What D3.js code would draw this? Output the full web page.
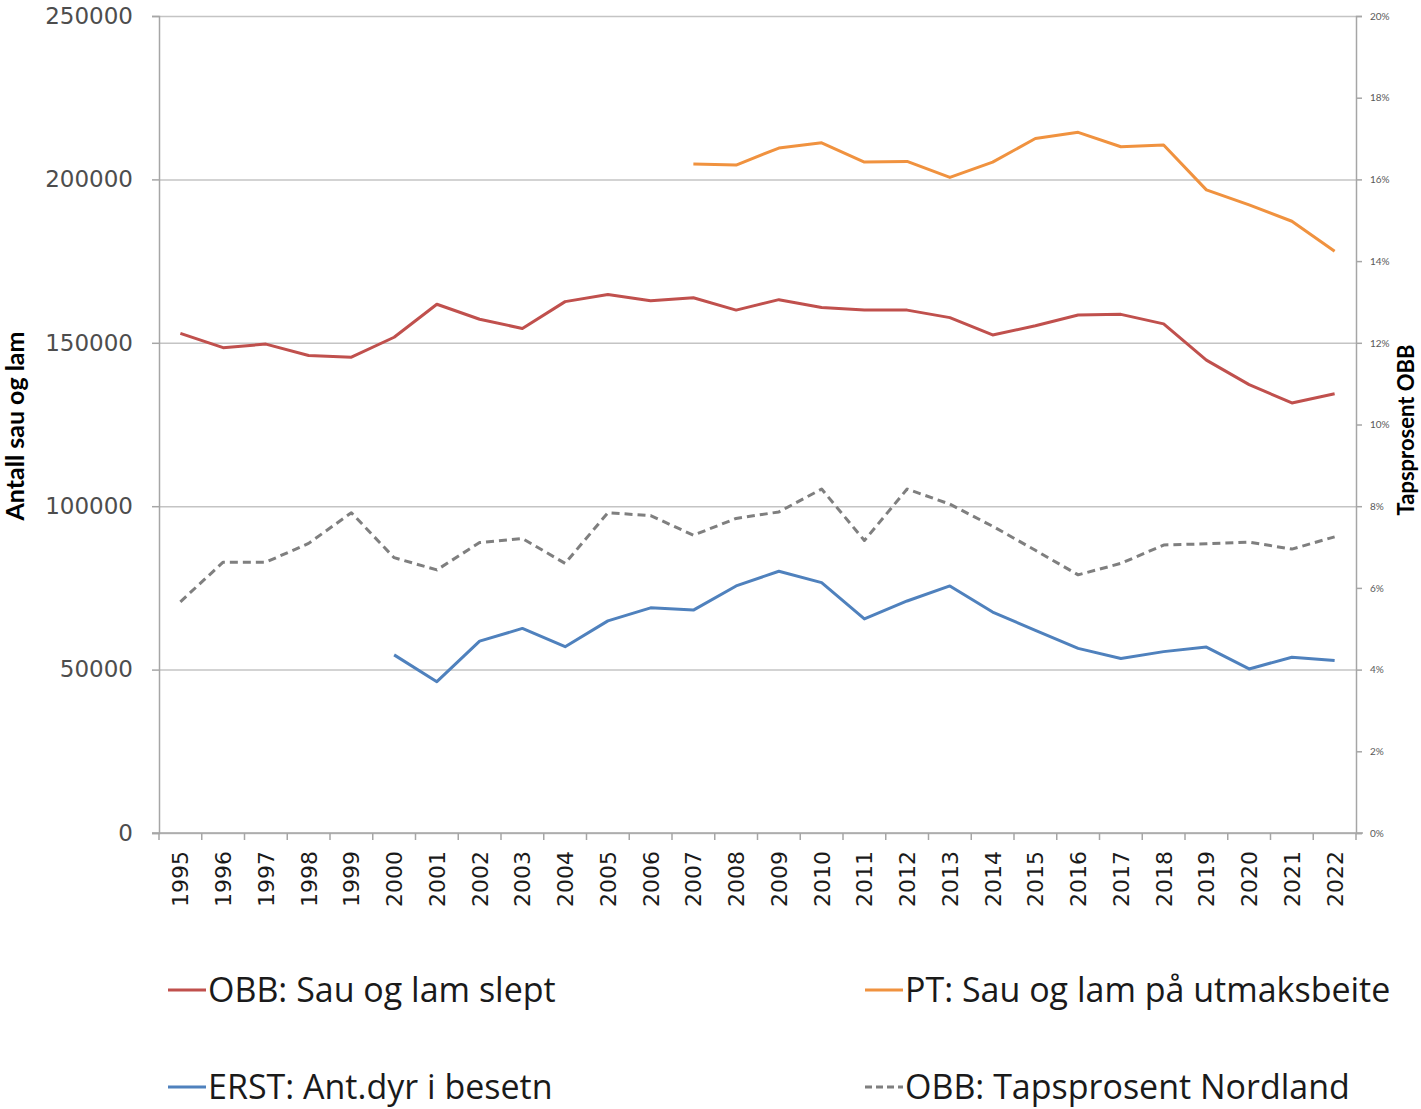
<!DOCTYPE html>
<html>
<head>
<meta charset="utf-8" />
<title>Sau og lam</title>
<script src="https://d3js.org/d3.v7.min.js"></script>
<style>
body { margin: 0; background: #fff; }
.axis path, .axis line { stroke: #a6a6a6; }
.grid line { stroke: #c4c4c4; stroke-width: 1.5; }
.grid path { display: none; }
</style>
</head>
<body>
<div id="viz"></div>
<script>

// data
var years = d3.range(1995, 2023);

var obbSlept = [152900, 148500, 149600, 146100, 145600, 151700, 161800, 157200, 154400, 162600,
                164800, 162900, 163800, 160000, 163200, 160800, 160000, 160000, 157700, 152400,
                155200, 158500, 158700, 155800, 144700, 137200, 131600, 134400];

// PT series starts 2007
var ptYears = d3.range(2007, 2023);
var ptUtmark = [204700, 204400, 209600, 211200, 205300, 205500, 200600, 205300, 212500, 214400,
                210000, 210500, 196800, 192200, 187200, 178000];

// ERST series starts 2000
var erstYears = d3.range(2000, 2023);
var erstDyr = [54500, 46300, 58700, 62600, 57000, 64900, 68900, 68200, 75600, 80100,
               76600, 65500, 71000, 75600, 67600, 62000, 56500, 53400, 55500, 56900,
               50200, 53800, 52800];

// loss percent, right axis
var tapsNordland = [0.0566, 0.0663, 0.0663, 0.0709, 0.0784, 0.0674, 0.0644, 0.0711, 0.0721, 0.0660,
                    0.0784, 0.0777, 0.0729, 0.0770, 0.0786, 0.0842, 0.0716, 0.0842, 0.0805, 0.0751,
                    0.0692, 0.0632, 0.0660, 0.0705, 0.0708, 0.0712, 0.0695, 0.0725];

var leftTicks = [0, 50000, 100000, 150000, 200000, 250000];
var rightTicks = d3.range(0, 0.2001, 0.02);

var series = [
  {name: "OBB: Sau og lam slept", color: "#c0504d", dash: null, axis: "L", xs: years, ys: obbSlept},
  {name: "PT: Sau og lam på utmaksbeite", color: "#f0923f", dash: null, axis: "L", xs: ptYears, ys: ptUtmark},
  {name: "ERST: Ant.dyr i besetn", color: "#4f81bd", dash: null, axis: "L", xs: erstYears, ys: erstDyr},
  {name: "OBB: Tapsprosent Nordland", color: "#7f7f7f", dash: "8,5", axis: "R", xs: years, ys: tapsNordland}
];

var W = 1421, H = 1109;
var margin = {left: 159, top: 16},
    width = 1197,
    height = 817;

var svg = d3.select("#viz").append("svg")
    .attr("width", W)
    .attr("height", H);

var g = svg.append("g")
    .attr("transform", "translate(" + margin.left + "," + margin.top + ")");

var x = d3.scaleBand().domain(years).range([0, width]);
var yL = d3.scaleLinear().domain([0, 250000]).range([height, 0]);
var yR = d3.scaleLinear().domain([0, 0.2]).range([height, 0]);

// gridlines
g.append("g")
    .attr("class", "grid")
    .call(d3.axisLeft(yL).tickValues(leftTicks).tickSize(-width).tickFormat(""));

// left axis
var ax = g.append("g")
    .attr("class", "axis")
    .call(d3.axisLeft(yL).tickValues(leftTicks).tickSize(7).tickPadding(19).tickFormat(d3.format("d")));
ax.selectAll("path, line").attr("stroke", "#a6a6a6").attr("stroke-width", 1.5);
ax.selectAll("text")
    .attr("fill", "#4d4d4d")
    .style("font-family", "DejaVu Sans")
    .style("font-size", "23px");

// right axis
var axR = g.append("g")
    .attr("class", "axis")
    .attr("transform", "translate(" + width + ",0)")
    .call(d3.axisRight(yR).tickValues(rightTicks).tickSize(6).tickPadding(8).tickFormat(d3.format(".0%")));
axR.selectAll("path, line").attr("stroke", "#a6a6a6").attr("stroke-width", 1.5);
axR.selectAll("text")
    .attr("fill", "#595959")
    .style("font-family", "Lato")
    .style("font-size", "10px");

// bottom axis: labels at centers, ticks between categories
var axB = g.append("g")
    .attr("class", "axis")
    .attr("transform", "translate(0," + height + ")")
    .call(d3.axisBottom(x).tickSize(0).tickPadding(0));
axB.select("path").attr("stroke", "#a6a6a6").attr("stroke-width", 1.5)
    .attr("d", "M-7,0H" + (width + 7));
axB.selectAll("text")
    .attr("transform", "rotate(-90)")
    .attr("x", -18)
    .attr("y", 0)
    .attr("dy", "0.36em")
    .attr("text-anchor", "end")
    .attr("fill", "#1a1a1a")
    .style("font-family", "DejaVu Sans")
    .style("font-size", "22px");

g.append("g").selectAll("line")
    .data(years.concat([null]))
    .enter().append("line")
      .attr("x1", function(d) { return d === null ? width : x(d); })
      .attr("x2", function(d) { return d === null ? width : x(d); })
      .attr("y1", height)
      .attr("y2", height + 7)
      .attr("stroke", "#a6a6a6")
      .attr("stroke-width", 1.5);

// lines
series.forEach(function(s) {
  var yS = s.axis === "L" ? yL : yR;
  var line = d3.line()
      .x(function(d, i) { return x(s.xs[i]) + x.bandwidth() / 2; })
      .y(function(d) { return yS(d); });
  g.append("path")
      .datum(s.ys)
      .attr("fill", "none")
      .attr("stroke", s.color)
      .attr("stroke-width", 3)
      .attr("stroke-dasharray", s.dash)
      .attr("stroke-linejoin", "round")
      .attr("d", line);
});

// axis titles
svg.append("text")
    .attr("transform", "translate(24," + (margin.top + 410) + ") rotate(-90)")
    .attr("text-anchor", "middle")
    .attr("fill", "#000")
    .style("font-family", "Lato")
    .style("font-weight", "bold")
    .style("font-size", "25px")
    .text("Antall sau og lam");

svg.append("text")
    .attr("transform", "translate(1414," + (margin.top + 414) + ") rotate(-90)")
    .attr("text-anchor", "middle")
    .attr("fill", "#000")
    .style("font-family", "Lato")
    .style("font-weight", "bold")
    .style("font-size", "22px")
    .text("Tapsprosent OBB");

// legend
var legPos = [[168, 990], [865, 990], [168, 1087], [865, 1087]];
var leg = svg.append("g");
series.forEach(function(s, i) {
  var p = legPos[i];
  leg.append("line")
      .attr("x1", p[0]).attr("x2", p[0] + 38)
      .attr("y1", p[1]).attr("y2", p[1])
      .attr("stroke", s.color)
      .attr("stroke-width", 3)
      .attr("stroke-dasharray", s.dash ? "7,4" : null);
  leg.append("text")
      .attr("x", p[0] + 40)
      .attr("y", p[1])
      .attr("dy", "0.36em")
      .attr("fill", "#1a1a1a")
      .style("font-family", "Open Sans")
      .style("font-size", "34px")
      .text(s.name);
});

</script>
</body>
</html>
